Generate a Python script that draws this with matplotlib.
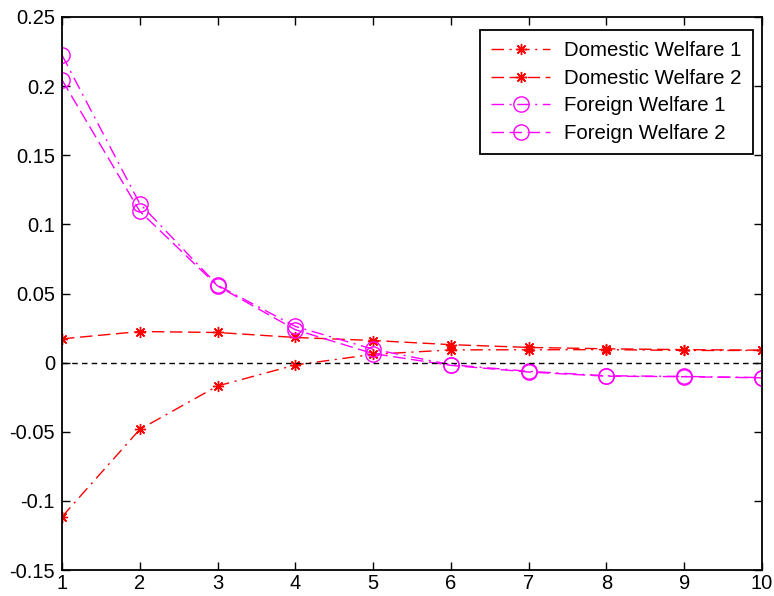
import matplotlib
matplotlib.use("Agg")
import matplotlib.pyplot as plt

plt.rcParams['font.family'] = ['Liberation Sans', 'DejaVu Sans']

periods = [1, 2, 3, 4, 5, 6, 7, 8, 9, 10]
domestic1 = [-0.1115, -0.0483, -0.0169, -0.0017, 0.0060, 0.0092, 0.0093, 0.0094, 0.0088, 0.0088]
domestic2 = [0.0172, 0.0225, 0.0218, 0.0182, 0.0160, 0.0130, 0.0110, 0.0100, 0.0094, 0.0090]
foreign1 = [0.2225, 0.1150, 0.0560, 0.0262, 0.0097, -0.0015, -0.0063, -0.0095, -0.0100, -0.0108]
foreign2 = [0.2045, 0.1095, 0.0555, 0.0238, 0.0065, -0.0020, -0.0068, -0.0098, -0.0102, -0.0110]
labels = ['Domestic Welfare 1', 'Domestic Welfare 2', 'Foreign Welfare 1', 'Foreign Welfare 2']

fig = plt.figure(figsize=(7.74, 5.96), dpi=100)
ax = fig.add_axes([62/774, (596-570)/596, (762-62)/774, (570-17)/596])

red = '#FF0000'
mag = '#FF00FF'
ast = (8, 2, 0)
dashdot = (0, (9, 4, 1.5, 4))
dashed = (0, (9, 4))
ax.plot(periods, domestic1, color=red, linestyle=dashdot, marker=ast, markersize=8, mew=1, lw=1, label=labels[0])
ax.plot(periods, domestic2, color=red, linestyle=dashed, marker=ast, markersize=8, mew=1, lw=1, label=labels[1])
ax.plot(periods, foreign1, color=mag, linestyle=dashdot, marker='o', markersize=11, mfc='none', mew=1, lw=1, label=labels[2])
ax.plot(periods, foreign2, color=mag, linestyle=dashed, marker='o', markersize=11, mfc='none', mew=1, lw=1, label=labels[3])
ax.axhline(0, color='black', linestyle=(0, (4, 3)), lw=1)

ax.set_xlim(1, 10)
ax.set_ylim(-0.15, 0.25)
ax.set_xticks(periods)
ax.set_xticklabels([str(p) for p in periods])
yt = [-0.15, -0.1, -0.05, 0, 0.05, 0.1, 0.15, 0.2, 0.25]
ax.set_yticks(yt)
ax.set_yticklabels(['-0.15', '-0.1', '-0.05', '0', '0.05', '0.1', '0.15', '0.2', '0.25'])
ax.tick_params(direction='in', top=True, right=True, labelsize=14.5, length=6, width=1, pad=5)
ax.tick_params(axis='x', pad=3)
for s in ax.spines.values():
    s.set_linewidth(1.3)

leg = ax.legend(loc='upper right', bbox_to_anchor=(753/774, 1 - 30/596),
                bbox_transform=fig.transFigure, fontsize=14.7, fancybox=False,
                edgecolor='black', framealpha=1, borderaxespad=0, handlelength=2.9,
                handletextpad=0.7, labelspacing=0.42, borderpad=0.55)
leg.get_frame().set_linewidth(1.3)

fig.savefig('out.png', dpi=100)
